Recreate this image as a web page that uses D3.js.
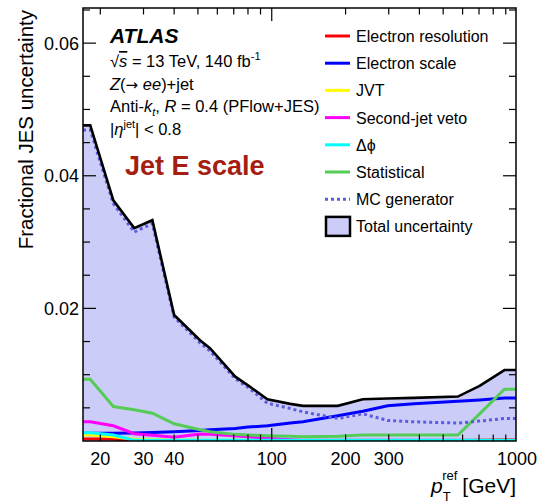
<!DOCTYPE html>
<html>
<head>
<meta charset="utf-8">
<script src="https://cdn.jsdelivr.net/npm/d3@7"></script>
<style>
  body { margin: 0; background: #fff; }
  svg { display: block; font-family: "Liberation Sans", Arial, sans-serif; }
  .lbl { font-size: 16.5px; fill: #000; }
  .tick-lbl { font-size: 18px; fill: #000; }
</style>
</head>
<body>
<svg width="538" height="504"></svg>
<script>
"use strict";

// pT points (GeV)
var ptPoints = [17, 18.2, 22.6, 27.5, 32.6, 40, 51, 56, 71, 80, 96, 119, 134, 186, 235, 297, 380, 574, 704, 889, 1000];

var totalUnc  = [0.0476, 0.0476, 0.0363, 0.0321, 0.0333, 0.0190, 0.0152, 0.0140, 0.0097, 0.0084, 0.0063, 0.0056, 0.0053, 0.0053, 0.0063, 0.0064, 0.0065, 0.0067, 0.0083, 0.0107, 0.0107];
var mcGen     = [0.0469, 0.0469, 0.0358, 0.0315, 0.0328, 0.0187, 0.0148, 0.0136, 0.0094, 0.0081, 0.0057, 0.0049, 0.0044, 0.0034, 0.0041, 0.0031, 0.0029, 0.0027, 0.0030, 0.0034, 0.0034];
var elScale   = [0.00115, 0.00115, 0.00115, 0.0012, 0.0013, 0.0014, 0.0016, 0.0017, 0.0019, 0.0021, 0.0023, 0.0027, 0.0029, 0.0038, 0.0045, 0.0053, 0.0056, 0.0060, 0.0062, 0.0065, 0.0065];
var statUnc   = [0.0093, 0.0093, 0.0052, 0.0047, 0.0042, 0.0026, 0.0017, 0.0014, 0.0010, 0.0009, 0.0008, 0.0007, 0.00065, 0.0007, 0.0009, 0.0009, 0.0009, 0.0009, 0.0041, 0.0078, 0.0078];
var secondJet = [0.0029, 0.0029, 0.0023, 0.0011, 0.00085, 0.00055, 0.00105, 0.0010, 0.0008, 0.00065, 0.0004, 0.0002, 0.0001, 0.0001, 0.0001, 0.0001, 0.0001, 0.0001, 0.0001, 0.0001, 0.0001];
var dPhi      = [0.00125, 0.00125, 0.0009, 0.0001, 0.0001, 0.0001, 0.0001, 0.0001, 0.0001, 0.0001, 0.0001, 0.0001, 0.0001, 0.0001, 0.0001, 0.0001, 0.0001, 0.0001, 0.0001, 0.0001, 0.0001];
var jvt       = [0.0009, 0.0009, 0.00065, 0.00025, 0.0002, 0.00015, 0.0001, 0.0001, 0.0001, 0.0001, 0.0001, 0.0001, 0.0001, 0.0001, 0.0001, 0.0001, 0.0001, 0.0001, 0.0001, 0.0001, 0.0001];
var elRes     = [0.0003, 0.0003, 0.0003, 0.00003, 0.00003, 0.00003, 0.00003, 0.00003, 0.00003, 0.00003, 0.00003, 0.00003, 0.00003, 0.00003, 0.00003, 0.00003, 0.00003, 0.00005, 0.0001, 0.0002, 0.0002];

var xTickLabels = [20, 30, 40, 100, 200, 300, 1000];
var yTickLabels = [0.02, 0.04, 0.06];

var legendNames = ["Electron resolution", "Electron scale", "JVT", "Second-jet veto", "\u0394\u03d5", "Statistical", "MC generator", "Total uncertainty"];

var svg = d3.select("svg");
var pLeft = 83, pRight = 517, pTop = 8, pBottom = 441, frameRight = 516;

var x = d3.scaleLog().domain([17, 1000]).range([pLeft, pRight]);
var y = d3.scaleLinear().domain([0, 0.0653]).range([pBottom, pTop]);

svg.append("defs").append("clipPath").attr("id", "clip")
  .append("rect").attr("x", pLeft).attr("y", pTop)
  .attr("width", frameRight - pLeft).attr("height", pBottom - pTop);

var plot = svg.append("g").attr("clip-path", "url(#clip)");

function pts(vals) {
  return ptPoints.map(function(p, i) { return [p, vals[i]]; });
}

var line = d3.line()
  .x(function(d) { return x(d[0]); })
  .y(function(d) { return y(d[1]); });

var area = d3.area()
  .x(function(d) { return x(d[0]); })
  .y0(y(0))
  .y1(function(d) { return y(d[1]); });

var fillCol = "#ccccf8";

plot.append("path").datum(pts(totalUnc))
  .attr("d", area).attr("fill", fillCol);

var series = [
  { v: elRes, c: "#ff0000" },
  { v: elScale, c: "#0000ff" },
  { v: jvt, c: "#ffff00" },
  { v: secondJet, c: "#ff00ff" },
  { v: dPhi, c: "#00ffff" },
  { v: statUnc, c: "#55cc55" }
];

series.forEach(function(s) {
  plot.append("path").datum(pts(s.v))
    .attr("d", line).attr("fill", "none")
    .attr("stroke", s.c).attr("stroke-width", 3);
});

plot.append("path").datum(pts(mcGen))
  .attr("d", line).attr("fill", "none")
  .attr("stroke", "#5c5ce0").attr("stroke-width", 3)
  .attr("stroke-dasharray", "3,3");

plot.append("path").datum(pts(totalUnc))
  .attr("d", line).attr("fill", "none")
  .attr("stroke", "#000").attr("stroke-width", 2.6);

// ticks
var xMinor = [20, 30, 40, 50, 60, 70, 80, 90, 200, 300, 400, 500, 600, 700, 800, 900];
var xMajor = [100];
var yMinor = d3.range(1, 14).map(function(i) { return i * 0.005; })
  .filter(function(v, i) { return (i + 1) % 4 != 0; });

var ticks = svg.append("g").attr("stroke", "#000").attr("stroke-width", 1.2);
function xTick(v, len) {
  ticks.append("line").attr("x1", x(v)).attr("x2", x(v)).attr("y1", pBottom).attr("y2", pBottom - len);
  ticks.append("line").attr("x1", x(v)).attr("x2", x(v)).attr("y1", pTop).attr("y2", pTop + len);
}
function yTick(v, len) {
  ticks.append("line").attr("x1", pLeft).attr("x2", pLeft + len).attr("y1", y(v)).attr("y2", y(v));
  ticks.append("line").attr("x1", frameRight).attr("x2", frameRight - len).attr("y1", y(v)).attr("y2", y(v));
}
xMinor.forEach(function(v) { xTick(v, 6.5); });
xMajor.forEach(function(v) { xTick(v, 13); });
yMinor.forEach(function(v) { yTick(v, 7); });
yTickLabels.forEach(function(v) { yTick(v, 13); });

svg.append("rect").attr("x", pLeft).attr("y", pTop)
  .attr("width", frameRight - pLeft).attr("height", pBottom - pTop)
  .attr("fill", "none").attr("stroke", "#000").attr("stroke-width", 1.5);

svg.append("g").selectAll("text").data(xTickLabels).enter().append("text")
  .attr("class", "tick-lbl").attr("x", function(d) { return x(d); })
  .attr("y", 465).attr("text-anchor", "middle").text(function(d) { return d; });

svg.append("g").selectAll("text").data(yTickLabels).enter().append("text")
  .attr("class", "tick-lbl").attr("x", 79)
  .attr("y", function(d) { return y(d) + 6.5; }).attr("text-anchor", "end")
  .text(function(d) { return d.toFixed(2); });

// axis titles
svg.append("text").attr("transform", "translate(33,10) rotate(-90)")
  .attr("text-anchor", "end").style("font-size", "20.5px")
  .text("Fractional JES uncertainty");

var xt = svg.append("text").attr("x", 516).attr("y", 493)
  .attr("text-anchor", "end").style("font-size", "21px");
xt.append("tspan").style("font-style", "italic").text("p");
xt.append("tspan").attr("dy", 8).style("font-size", "13px").text("T");
xt.append("tspan").attr("dx", -8).attr("dy", -21).style("font-size", "13px").text("ref");
xt.append("tspan").attr("dx", 5).attr("dy", 13).text("[GeV]");

// ATLAS label block
svg.append("text").attr("x", 110).attr("y", 43)
  .style("font-size", "21px").style("font-weight", "bold").style("font-style", "italic")
  .text("ATLAS");

var t1 = svg.append("text").attr("class", "lbl").attr("x", 110).attr("y", 67);
t1.append("tspan").text("\u221a");
t1.append("tspan").style("font-style", "italic").style("text-decoration", "overline").text("s");
t1.append("tspan").text(" = 13 TeV, 140 fb");
t1.append("tspan").attr("dy", -7).style("font-size", "11px").text("-1");

var t2 = svg.append("text").attr("class", "lbl").attr("x", 110).attr("y", 90);
t2.append("tspan").style("font-style", "italic").text("Z");
t2.append("tspan").text("(");
t2.append("tspan").style("font-family", "'DejaVu Sans'").style("font-size", "15px").text("\u2192");
t2.append("tspan").text(" ");
t2.append("tspan").style("font-style", "italic").text("ee");
t2.append("tspan").text(")+jet");

var t3 = svg.append("text").attr("class", "lbl").attr("x", 110).attr("y", 112);
t3.append("tspan").text("Anti-");
t3.append("tspan").style("font-style", "italic").text("k");
t3.append("tspan").attr("dy", 4).style("font-size", "11px").style("font-style", "italic").text("t");
t3.append("tspan").attr("dy", -4).text(", ");
t3.append("tspan").style("font-style", "italic").text("R");
t3.append("tspan").text(" = 0.4 (PFlow+JES)");

var t4 = svg.append("text").attr("class", "lbl").attr("x", 110).attr("y", 135);
t4.append("tspan").text("|");
t4.append("tspan").style("font-style", "italic").text("\u03b7");
t4.append("tspan").attr("dy", -7).style("font-size", "11px").text("jet");
t4.append("tspan").attr("dy", 7).text("| < 0.8");

svg.append("text").attr("x", 125).attr("y", 175)
  .style("font-weight", "bold")
  .style("font-size", "27px").attr("fill", "#a51e12")
  .text("Jet E scale");

// legend
var legColors = ["#ff0000", "#0000ff", "#ffff00", "#ff00ff", "#00ffff", "#55cc55", "#5c5ce0"];
var leg = svg.append("g");
legendNames.forEach(function(name, i) {
  var cy = 36 + i * 27.2;
  if (i < 7) {
    leg.append("line").attr("x1", 325).attr("x2", 350).attr("y1", cy).attr("y2", cy)
      .attr("stroke", legColors[i]).attr("stroke-width", 3)
      .attr("stroke-dasharray", i == 6 ? "3,3" : null);
  } else {
    leg.append("rect").attr("x", 326).attr("y", cy - 9.5).attr("width", 24).attr("height", 19)
      .attr("fill", fillCol).attr("stroke", "#000").attr("stroke-width", 2.5);
  }
  leg.append("text").attr("class", "lbl").style("font-size", "16px")
    .attr("x", 356).attr("y", cy + 6).text(name);
});
</script>
</body>
</html>
